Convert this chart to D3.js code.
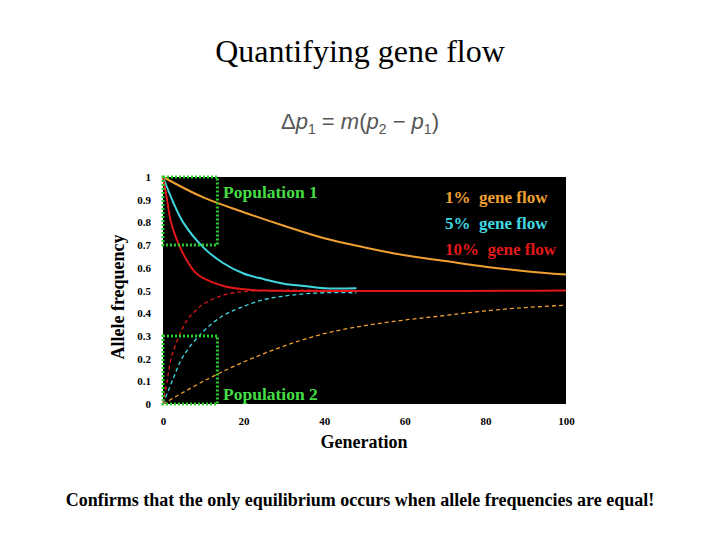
<!DOCTYPE html>
<html><head><meta charset="utf-8">
<script src="https://cdn.jsdelivr.net/npm/d3@7"></script>
<style>body{margin:0;background:#fff}svg{display:block}</style>
</head><body>
<script>
// values: [generation, allele frequency]
const orangeUp = [[0,1],[10,0.91],[20,0.845],[30,0.785],[40,0.73],[50,0.69],[60,0.655],[70,0.63],[80,0.605],[90,0.585],[100,0.57]];
const orangeLo = [[0,0],[10,0.1],[20,0.185],[30,0.255],[40,0.31],[50,0.345],[60,0.37],[70,0.39],[80,0.41],[90,0.425],[100,0.435]];
const cyanUp = [[0,1],[2.5,0.89],[5,0.8],[10,0.69],[15,0.62],[20,0.575],[25,0.55],[30,0.53],[35,0.52],[40,0.51],[48,0.51]];
const cyanLo = [[0,0],[2.5,0.11],[5,0.21],[10,0.32],[15,0.39],[20,0.43],[25,0.46],[30,0.475],[35,0.485],[40,0.49],[48,0.49]];
const redUp = [[0,1],[1,0.9],[2,0.8],[4,0.7],[6,0.63],[8,0.58],[10,0.555],[15,0.52],[20,0.505],[25,0.5],[100,0.5]];
const redLo = [[0,0],[1,0.1],[2,0.2],[4,0.3],[6,0.37],[8,0.41],[10,0.44],[15,0.48],[20,0.495],[25,0.5],[48,0.5]];
const xTicks = [0,20,40,60,80,100];
const yTicks = [0,0.1,0.2,0.3,0.4,0.5,0.6,0.7,0.8,0.9,1];
const legend = [["1%  gene flow","#f0a030"],["5%  gene flow","#40d8e0"],["10%  gene flow","#e01818"]];

const svg = d3.select('body').append('svg').attr('width',720).attr('height',540);
const serif = "'Liberation Serif','Times New Roman',serif";

svg.append('text').attr('x',360).attr('y',62).attr('text-anchor','middle')
  .style('font-family',serif).style('font-size','32px').text('Quantifying gene flow');

const eq = svg.append('text').attr('x',360).attr('y',129).attr('text-anchor','middle')
  .style('font-family',"'Liberation Sans',Arial,sans-serif").style('font-size','22px').attr('fill','#555');
eq.append('tspan').text('Δ');
eq.append('tspan').style('font-style','italic').text('p');
eq.append('tspan').attr('dy',5).style('font-size','14px').text('1');
eq.append('tspan').attr('dy',-5).text(' = ');
eq.append('tspan').style('font-style','italic').text('m');
eq.append('tspan').text('(');
eq.append('tspan').style('font-style','italic').text('p');
eq.append('tspan').attr('dy',5).style('font-size','14px').text('2');
eq.append('tspan').attr('dy',-5).text(' − ');
eq.append('tspan').style('font-style','italic').text('p');
eq.append('tspan').attr('dy',5).style('font-size','14px').text('1');
eq.append('tspan').attr('dy',-5).text(')');

const x = d3.scaleLinear().domain([0,100]).range([163,566]);
const y = d3.scaleLinear().domain([0,1]).range([404,177]);

svg.append('rect').attr('x',x(0)).attr('y',y(1)).attr('width',x(100)-x(0)).attr('height',y(0)-y(1)).attr('fill','#000');

const xa = svg.append('g').attr('transform','translate(0,412)')
  .call(d3.axisBottom(x).tickValues(xTicks).tickSize(0).tickPadding(5));
const ya = svg.append('g').attr('transform','translate(155,0)')
  .call(d3.axisLeft(y).tickValues(yTicks).tickSize(0).tickPadding(4).tickFormat(d3.format('~g')));
[xa,ya].forEach(a=>{a.select('.domain').remove();
  a.selectAll('text').style('font-family',serif).style('font-size','11px').style('font-weight','bold');});

svg.append('text').attr('x',364).attr('y',448).attr('text-anchor','middle')
  .style('font-family',serif).style('font-size','18px').style('font-weight','bold').text('Generation');
svg.append('text').attr('transform','translate(124,297) rotate(-90)').attr('text-anchor','middle')
  .style('font-family',serif).style('font-size','18px').style('font-weight','bold').text('Allele frequency');

const line = d3.line().x(d=>x(d[0])).y(d=>y(d[1])).curve(d3.curveCatmullRom);
const series = [[orangeUp,'#f0a030',false],[orangeLo,'#f0a030',true],[cyanUp,'#40d8e0',false],[cyanLo,'#40d8e0',true],[redUp,'#e01818',false],[redLo,'#e01818',true]];
series.forEach(([d,c,dash])=>{
  svg.append('path').attr('d',line(d)).attr('fill','none').attr('stroke',c)
    .attr('stroke-width',dash?1.3:2).attr('stroke-dasharray',dash?'4,3':null);
});

// green dotted boxes
[[0.7,1],[0,0.3]].forEach(([a,b])=>{
  svg.append('rect').attr('x',x(0)).attr('y',y(b)).attr('width',x(13.5)-x(0)).attr('height',y(a)-y(b))
    .attr('fill','none').attr('stroke','#2ecc2e').attr('stroke-width',3).attr('stroke-dasharray','2,2');
});
svg.append('text').attr('x',223).attr('y',198).attr('fill','#44dd44').style('font-family',serif)
  .style('font-size','17.5px').style('font-weight','bold').text('Population 1');
svg.append('text').attr('x',223).attr('y',400).attr('fill','#44dd44').style('font-family',serif)
  .style('font-size','17.5px').style('font-weight','bold').text('Population 2');

legend.forEach(([t,c],i)=>{
  svg.append('text').attr('x',445).attr('y',203+i*26).attr('fill',c).style('font-family',serif)
    .style('font-size','17px').style('font-weight','bold').attr('xml:space','preserve').text(t);
});

svg.append('text').attr('x',360).attr('y',506).attr('text-anchor','middle')
  .style('font-family',serif).style('font-size','18px').style('font-weight','bold')
  .text('Confirms that the only equilibrium occurs when allele frequencies are equal!');
</script>
</body></html>
